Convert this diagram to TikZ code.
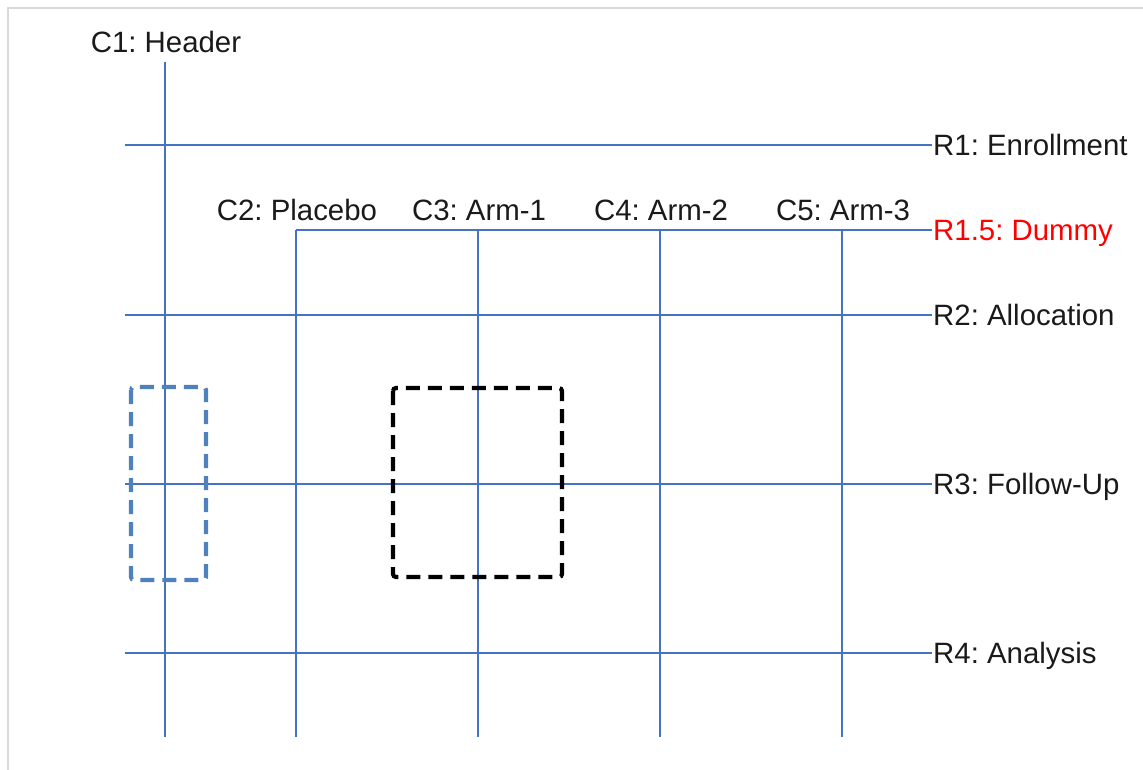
\documentclass[tikz,border=0pt]{standalone}
\usepackage{fontspec}
\setmainfont{Liberation Sans}
\frenchspacing
\begin{document}
\begin{tikzpicture}[x=1pt,y=-1pt,
  gridline/.style={draw=gridblue,line width=2.2pt},
  lbl/.style={inner sep=0pt,font=\fontsize{29.4}{34}\selectfont,text=labelgray},
  collbl/.style={lbl,anchor=base},
  rowlbl/.style={lbl,anchor=base west},
  hilite/.style={line width=4.2pt,dash pattern=on 14pt off 8pt,rounded corners=3pt},
  frameline/.style={draw=framegray,line width=2pt}]
\definecolor{gridblue}{HTML}{4472C4}
\definecolor{boxblue}{HTML}{4F81BD}
\definecolor{framegray}{HTML}{D9D9D9}
\definecolor{labelgray}{HTML}{1A1A1A}
\definecolor{dummyred}{HTML}{FF0000}
\useasboundingbox (0,0) rectangle (1143,770);

% outer frame (top and left edges only)
\coordinate (fTL) at (8,8);
\coordinate (fTR) at (1143,8);
\coordinate (fBL) at (8,770);
\draw[frameline] (fTR) -- (fTL) -- (fBL);

% row lines
\foreach \name/\y/\x in {r1/145/125, r15/230/296, r2/315/125, r3/484/125, r4/653/125}{
  \coordinate (\name w) at (\x,\y);
  \coordinate (\name e) at (932,\y);
  \draw[gridline] (\name w) -- (\name e);
}

% column lines
\foreach \name/\x/\y in {c1/165/62, c2/296/230, c3/478/230, c4/660/230, c5/842/230}{
  \coordinate (\name n) at (\x,\y);
  \coordinate (\name s) at (\x,737);
  \draw[gridline] (\name n) -- (\name s);
}

% column headers
\node[collbl] (c1lbl) at (166,53) {C1: Header};
\node[collbl] (c2lbl) at (297,221) {C2: Placebo};
\node[collbl] (c3lbl) at (479,221) {C3: Arm-1};
\node[collbl] (c4lbl) at (661,221) {C4: Arm-2};
\node[collbl] (c5lbl) at (843,221) {C5: Arm-3};

% row headers
\node[rowlbl] (r1lbl) at (933,155.5) {R1: Enrollment};
\node[rowlbl,text=dummyred] (r15lbl) at (933,240.5) {R1.5: Dummy};
\node[rowlbl] (r2lbl) at (933,325.5) {R2: Allocation};
\node[rowlbl] (r3lbl) at (933,494.5) {R3: Follow-Up};
\node[rowlbl] (r4lbl) at (933,663.5) {R4: Analysis};

% highlighted cells
\draw[hilite,draw=boxblue] (131,387) rectangle (206,580);
\draw[hilite,draw=black] (393,388) rectangle (562,577);
\end{tikzpicture}
\end{document}
